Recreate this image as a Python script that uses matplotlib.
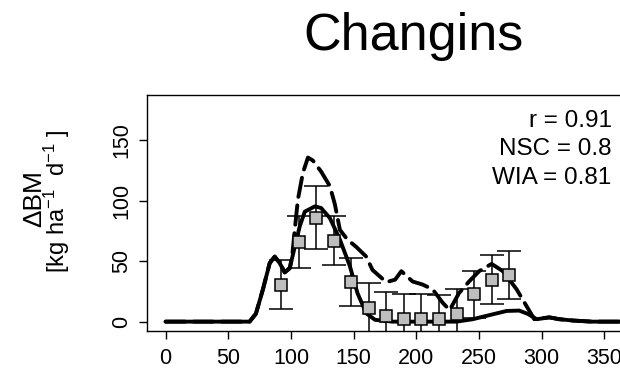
import matplotlib
matplotlib.use('Agg')
import matplotlib.pyplot as plt

plt.rcParams['font.family'] = ['Liberation Sans', 'DejaVu Sans']
plt.rcParams['mathtext.fontset'] = 'custom'
plt.rcParams['mathtext.rm'] = 'Liberation Sans'
plt.rcParams['mathtext.default'] = 'regular'

# simulated daily growth, model 1 (solid)
sim_day = [0, 67, 72, 77.6, 83, 87, 91, 95, 99, 103, 107, 111, 119, 124, 131, 139,
           147, 153, 160, 167, 181, 232, 245, 258, 272, 282, 289, 296, 306, 314, 325, 340, 365]
sim_val = [0.5, 0.5, 7, 27, 48.6, 54, 48.6, 41, 44.5, 62, 79, 91, 95.3, 94, 85.7, 68,
           46, 24, 7.4, 2, 0.5, 0.5, 2.5, 5.8, 9.3, 9.6, 6.8, 2.5, 4, 2.5, 1.4, 0.5, 0.5]

# simulated daily growth, model 2 (dashed)
sim2_day = [0, 67, 72, 77.6, 83, 87, 91, 95, 99, 101, 103, 105.5, 109.5, 113.5, 117.5,
            124, 131, 135, 139, 145, 152, 160, 165, 176, 183, 188, 197, 205, 213, 221,
            226.5, 234, 242, 250, 260, 269, 280, 288, 294, 306, 314, 325, 340, 365]
sim2_val = [0.5, 0.5, 7, 27, 48.6, 54, 48.6, 41, 44.5, 55, 76, 101, 123, 135.5, 133,
            124, 112, 97, 76, 68, 62, 54, 43, 33, 35, 42, 33.5, 31, 27, 16,
            10, 24, 33.5, 42, 48, 42, 27, 13, 2.5, 4, 2.5, 1.4, 0.5, 0.5]

# observations
obs_day = [92, 106, 120, 134, 148, 162, 176, 190, 204, 218, 232, 246, 260, 274]
obs_val = [31, 66, 86, 67, 33, 12, 5, 3, 3, 2.5, 7, 23, 35, 39]
obs_err = [20, 21, 26, 20, 20, 20, 20, 20, 20, 20, 20, 19.5, 20, 19.5]

x_ticks = [0, 50, 100, 150, 200, 250, 300, 350]
y_ticks = [0, 50, 100, 150]
stats = ['r = 0.91', 'NSC = 0.8', 'WIA = 0.81']

fig = plt.figure(figsize=(6.2, 3.74), dpi=100)
ax = fig.add_axes([147.3 / 620, 43 / 374, 494.3 / 620, 236.3 / 374])

ax.plot(sim_day, sim_val, color='black', lw=2.8, solid_capstyle='round', zorder=2)
ax.plot(sim2_day, sim2_val, color='black', lw=2.8, linestyle=(0, (5, 2.2)),
        dash_capstyle='round', zorder=2)
ax.errorbar(obs_day, obs_val, yerr=obs_err, fmt='none', ecolor='black',
            elinewidth=1.1, capsize=8.5, capthick=1.1, zorder=3)
ax.plot(obs_day, obs_val, 's', ms=8, mfc='#bebebe', mec='black', mew=1.1, zorder=4)

ax.set_xlim(-14.6, 379.6)
ax.set_ylim(-7.2, 187.2)
ax.set_xticks(x_ticks)
ax.set_yticks(y_ticks)
ax.tick_params(direction='out', length=6, width=1, labelsize=15.5)
ax.tick_params(axis='x', pad=6)
ax.tick_params(axis='y', pad=5)
for lab in ax.get_yticklabels():
    lab.set_rotation(90)
    lab.set_va('center')
for s in ax.spines.values():
    s.set_linewidth(1)

fig.text(414 / 620, 1 - 50 / 374, 'Changins', ha='center', va='baseline', fontsize=37.5)
fig.text(41 / 620, 1 - 199 / 374, '\u0394BM', rotation=90, rotation_mode='anchor',
         ha='center', va='baseline', fontsize=19)
fig.text(65 / 620, 1 - 201 / 374, r'[kg ha$^{-1}$  d$^{-1}$ ]', rotation=90,
         rotation_mode='anchor', ha='center', va='baseline', fontsize=17)

for i, s in enumerate(stats):
    fig.text(611.7 / 620, 1 - (126.7 + 28.7 * i) / 374, s, ha='right', va='baseline', fontsize=17.5)

fig.savefig('out.png', dpi=100)
